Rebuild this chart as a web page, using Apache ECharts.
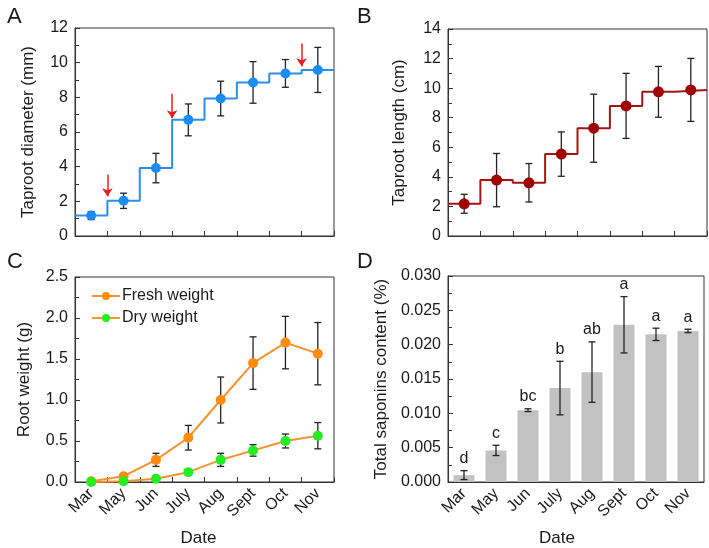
<!DOCTYPE html>
<html>
<head>
<meta charset="utf-8">
<script src="https://cdn.jsdelivr.net/npm/echarts@6/dist/echarts.min.js"></script>
<style>html,body{margin:0;padding:0;background:#fff}#c{width:709px;height:548px}</style>
</head>
<body>
<div id="c"></div>
<script>
const months = ['Mar','May','Jun','July','Aug','Sept','Oct','Nov'];
const diameter = [1.18, 2.03, 3.92, 6.7, 7.93, 8.86, 9.38, 9.58];
const diameterErr = [0.23, 0.44, 0.85, 0.92, 1.0, 1.2, 0.8, 1.3];
const taprootLength = [2.18, 3.78, 3.6, 5.54, 7.29, 8.8, 9.75, 9.88];
const taprootLengthErr = [0.64, 1.8, 1.3, 1.5, 2.3, 2.2, 1.72, 2.13];
const freshWeight = [0.01, 0.07, 0.27, 0.54, 1.0, 1.45, 1.7, 1.565];
const freshWeightErr = [0.005, 0.02, 0.08, 0.15, 0.28, 0.32, 0.32, 0.38];
const dryWeight = [0.0, 0.01, 0.04, 0.12, 0.27, 0.385, 0.5, 0.565];
const dryWeightErr = [0, 0.005, 0.01, 0.015, 0.08, 0.07, 0.085, 0.16];
const saponin = [0.001, 0.0046, 0.01046, 0.01368, 0.016, 0.0229, 0.0215, 0.022];
const saponinErr = [0.00065, 0.00075, 0.0002, 0.0039, 0.0044, 0.0041, 0.0009, 0.00025];
const saponinLetters = ['d','c','bc','b','ab','a','a','a'];
const arrowX = [1, 3, 7];
const arrowTop = [3.55, 8.2, 11.1];
const arrowTip = [2.3, 6.8, 9.8];

const FONT = "'Liberation Sans', Arial, sans-serif";
const AX = '#333';
const TXT = '#1a1a1a';

function stepData(vals) {
  const d = vals.map((v, i) => [i, v]);
  d.push([vals.length, vals[vals.length - 1]]);
  return d;
}
function errSeries(xi, yi, vals, errs) {
  return {
    type: 'custom', xAxisIndex: xi, yAxisIndex: yi, z: 3, silent: true,
    encode: { x: 0, y: [1, 2] },
    data: vals.map((v, i) => [i, v - errs[i], v + errs[i]]),
    renderItem: function (params, api) {
      const lo = api.coord([api.value(0), api.value(1)]);
      const hi = api.coord([api.value(0), api.value(2)]);
      const w = 3.5;
      const st = { stroke: '#222', lineWidth: 1.3 };
      return { type: 'group', children: [
        { type: 'line', shape: { x1: lo[0], y1: lo[1], x2: hi[0], y2: hi[1] }, style: st },
        { type: 'line', shape: { x1: lo[0] - w, y1: lo[1], x2: lo[0] + w, y2: lo[1] }, style: st },
        { type: 'line', shape: { x1: hi[0] - w, y1: hi[1], x2: hi[0] + w, y2: hi[1] }, style: st }
      ]};
    }
  };
}
function catAxis(gi, opts) {
  return Object.assign({
    type: 'category', gridIndex: gi, data: months, boundaryGap: true,
    axisLine: { lineStyle: { color: AX, width: 1 } },
    axisTick: { show: true, inside: true, length: 5, lineStyle: { color: AX } },
    axisLabel: { show: false },
    splitLine: { show: false }
  }, opts || {});
}
function hiddenValX(gi) {
  return { type: 'value', gridIndex: gi, min: 0, max: 8, show: false, splitLine: { show: false } };
}
function valY(gi, max, interval, name, gap, fmt) {
  return {
    type: 'value', gridIndex: gi, min: 0, max: max, interval: interval,
    name: name, nameLocation: 'middle', nameGap: gap,
    nameTextStyle: { fontFamily: FONT, fontSize: 17, color: TXT },
    axisLine: { show: true, lineStyle: { color: AX, width: 1 } },
    axisTick: { show: true, inside: true, length: 5, lineStyle: { color: AX } },
    minorTick: { show: true, splitNumber: 2, length: 4, lineStyle: { color: AX } },
    axisLabel: { fontFamily: FONT, fontSize: 16, color: TXT, margin: 7, formatter: fmt },
    splitLine: { show: false }
  };
}
const rotLabel = { show: true, rotate: 45, fontFamily: FONT, fontSize: 16, color: TXT, margin: 9, interval: 0 };
const gridBase = { show: true, borderColor: AX, borderWidth: 1, backgroundColor: 'transparent' };

const option = {
  animation: false,
  backgroundColor: '#fff',
  textStyle: { fontFamily: FONT },
  title: [
    { text: 'A', left: 2, top: 1, textStyle: { fontFamily: FONT, fontSize: 22, fontWeight: 'normal', color: TXT } },
    { text: 'B', left: 352, top: 1, textStyle: { fontFamily: FONT, fontSize: 22, fontWeight: 'normal', color: TXT } },
    { text: 'C', left: 2, top: 246, textStyle: { fontFamily: FONT, fontSize: 22, fontWeight: 'normal', color: TXT } },
    { text: 'D', left: 352, top: 246, textStyle: { fontFamily: FONT, fontSize: 22, fontWeight: 'normal', color: TXT } }
  ],
  legend: {
    orient: 'vertical', left: 86, top: 283, itemWidth: 28, itemHeight: 10, itemGap: 6,
    textStyle: { fontFamily: FONT, fontSize: 16, color: TXT, padding: [0, 0, 0, -3] },
    data: ['Fresh weight', 'Dry weight']
  },
  grid: [
    Object.assign({ left: 75, top: 28, width: 259, height: 208 }, gridBase),
    Object.assign({ left: 448, top: 29, width: 259, height: 207 }, gridBase),
    Object.assign({ left: 75, top: 277, width: 259, height: 207 }, gridBase),
    Object.assign({ left: 448, top: 276, width: 256, height: 208 }, gridBase)
  ],
  xAxis: [
    catAxis(0),
    hiddenValX(0),
    catAxis(1),
    hiddenValX(1),
    catAxis(2, { axisLabel: rotLabel, name: 'Date', nameLocation: 'middle', nameGap: 48,
      nameTextStyle: { fontFamily: FONT, fontSize: 17, color: TXT, padding: [0, 12, 0, 0] } }),
    catAxis(3, { axisTick: { show: false }, axisLabel: rotLabel, name: 'Date', nameLocation: 'middle', nameGap: 48,
      nameTextStyle: { fontFamily: FONT, fontSize: 17, color: TXT, padding: [0, 38, 0, 0] } })
  ],
  yAxis: [
    valY(0, 12, 2, 'Taproot diameter (mm)', 38),
    valY(1, 14, 2, 'Taproot length (cm)', 40),
    valY(2, 2.5, 0.5, 'Root weight (g)', 42, v => v.toFixed(1)),
    valY(3, 0.03, 0.005, 'Total saponins content (%)', 58, v => v.toFixed(3))
  ],
  series: [
    { type: 'line', xAxisIndex: 1, yAxisIndex: 0, step: 'end', data: stepData(diameter), showSymbol: false, symbol: 'none',
      lineStyle: { color: '#2b8ef0', width: 2 }, z: 2, silent: true },
    errSeries(0, 0, diameter, diameterErr),
    { type: 'scatter', xAxisIndex: 0, yAxisIndex: 0, data: diameter, symbolSize: 10, itemStyle: { color: '#1a8cf5', opacity: 1 }, z: 4 },
    { type: 'lines', coordinateSystem: 'cartesian2d', xAxisIndex: 1, yAxisIndex: 0, z: 5, silent: true,
      symbol: ['none', 'arrow'], symbolSize: [0, 8],
      lineStyle: { color: '#ee1c1c', width: 1.5, opacity: 1, curveness: 0 },
      data: arrowX.map((x, i) => ({ coords: [[x, arrowTop[i]], [x, arrowTip[i]]] })) },
    { type: 'line', xAxisIndex: 3, yAxisIndex: 1, step: 'end', data: stepData(taprootLength), showSymbol: false, symbol: 'none',
      lineStyle: { color: '#a31515', width: 2 }, z: 2, silent: true },
    errSeries(2, 1, taprootLength, taprootLengthErr),
    { type: 'scatter', xAxisIndex: 2, yAxisIndex: 1, data: taprootLength, symbolSize: 11, itemStyle: { color: '#a00000', opacity: 1 }, z: 4 },
    errSeries(4, 2, freshWeight, freshWeightErr),
    errSeries(4, 2, dryWeight, dryWeightErr),
    { name: 'Fresh weight', type: 'line', xAxisIndex: 4, yAxisIndex: 2, data: freshWeight, symbol: 'circle', symbolSize: 10,
      itemStyle: { color: '#ff8c0f' }, lineStyle: { color: '#f59331', width: 2 }, z: 4 },
    { name: 'Dry weight', type: 'line', xAxisIndex: 4, yAxisIndex: 2, data: dryWeight, symbol: 'circle', symbolSize: 10,
      itemStyle: { color: '#22ee22' }, lineStyle: { color: '#f59331', width: 2 }, z: 5 },
    { type: 'bar', xAxisIndex: 5, yAxisIndex: 3, data: saponin, barWidth: 21, itemStyle: { color: '#c2c2c2' }, z: 2 },
    errSeries(5, 3, saponin, saponinErr),
    { type: 'custom', xAxisIndex: 5, yAxisIndex: 3, z: 6, silent: true,
      encode: { x: 0, y: 1 },
      data: saponin.map((v, i) => [i, v + saponinErr[i]]),
      renderItem: function (params, api) {
        const p = api.coord([api.value(0), api.value(1)]);
        return { type: 'text', x: p[0], y: p[1] - 4,
          style: { text: saponinLetters[params.dataIndex], font: '16px ' + FONT, fill: TXT, textAlign: 'center', textVerticalAlign: 'bottom' } };
      } }
  ]
};
const chart = echarts.init(document.getElementById('c'), null, { renderer: 'canvas' });
chart.setOption(option);
</script>
</body>
</html>
